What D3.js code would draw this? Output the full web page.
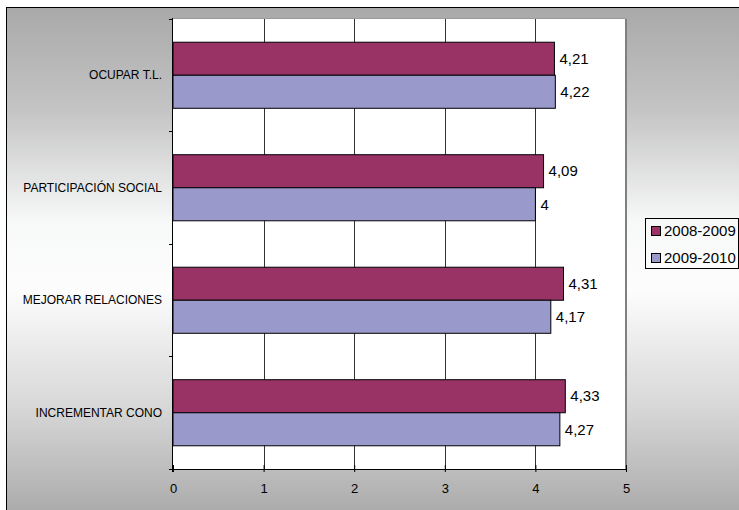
<!DOCTYPE html>
<html>
<head>
<meta charset="utf-8">
<script src="https://cdn.jsdelivr.net/npm/d3@7"></script>
<style>
  html, body { margin: 0; padding: 0; background: #fff; }
  svg { display: block; }
  text { font-family: "Liberation Sans", Arial, sans-serif; fill: #000; }
</style>
</head>
<body>
<svg id="chart" width="739" height="510"></svg>
<script>
// Categories (top to bottom) and the two series
const categories = ["OCUPAR T.L.", "PARTICIPACIÓN SOCIAL", "MEJORAR RELACIONES", "INCREMENTAR CONO"];
const seriesNames = ["2008-2009", "2009-2010"];
const values2008 = [4.21, 4.09, 4.31, 4.33];
const values2009 = [4.22, 4, 4.17, 4.27];
const xTicks = [0, 1, 2, 3, 4, 5];
const colors = ["#993366", "#9999cc"];

const svg = d3.select("#chart");
const W = 739, H = 510;

// Chart area background: grey -> white -> grey vertical gradient
const defs = svg.append("defs");
const grad = defs.append("linearGradient")
  .attr("id", "bg").attr("x1", 0).attr("y1", 0).attr("x2", 0).attr("y2", 1);
[[0, "#a9a9a9"], [0.2, "#c4c4c4"], [0.42, "#f7f8f8"], [0.55, "#fdfdfd"], [0.78, "#d8d8d8"], [1, "#a9a9a9"]]
  .forEach(([o, c]) => grad.append("stop").attr("offset", o).attr("stop-color", c));

svg.append("rect")
  .attr("x", 6.5).attr("y", 7.5).attr("width", W).attr("height", H)
  .attr("fill", "url(#bg)").attr("stroke", "#000").attr("stroke-width", 1);

// Plot area
const plot = { left: 173, right: 626, top: 19, bottom: 469 };

const x = d3.scaleLinear().domain([0, 5]).range([plot.left, plot.right]);
const y0 = d3.scaleBand().domain(categories).range([plot.top, plot.bottom]).paddingInner(0.4127).paddingOuter(0.2064);
const y1 = d3.scaleBand().domain(seriesNames).range([0, y0.bandwidth()]);

svg.append("rect")
  .attr("x", plot.left).attr("y", plot.top)
  .attr("width", plot.right - plot.left).attr("height", plot.bottom - plot.top)
  .attr("fill", "#fff");

// Vertical gridlines
svg.append("g").selectAll("line")
  .data(xTicks.slice(1, -1))
  .join("line")
  .attr("x1", d => Math.round(x(d)) + 0.5).attr("x2", d => Math.round(x(d)) + 0.5)
  .attr("y1", plot.top).attr("y2", plot.bottom)
  .attr("stroke", "#333").attr("stroke-width", 1);

// Plot area right/top edges
svg.append("line")
  .attr("x1", plot.right).attr("x2", plot.right)
  .attr("y1", plot.top).attr("y2", plot.bottom)
  .attr("stroke", "#808080").attr("stroke-width", 2);
svg.append("line")
  .attr("x1", plot.left).attr("x2", plot.right)
  .attr("y1", plot.top - 0.5).attr("y2", plot.top - 0.5)
  .attr("stroke", "#9a9a9a").attr("stroke-width", 1);

// Bars
const rows = categories.map((c, i) => ({ cat: c, vals: [values2008[i], values2009[i]] }));
const groups = svg.append("g").selectAll("g")
  .data(rows).join("g")
  .attr("transform", d => `translate(0,${y0(d.cat)})`);

groups.selectAll("rect")
  .data(d => d.vals.map((v, j) => ({ name: seriesNames[j], v, j })))
  .join("rect")
  .attr("x", x(0))
  .attr("y", d => y1(d.name))
  .attr("width", d => x(d.v) - x(0))
  .attr("height", y1.bandwidth())
  .attr("fill", d => colors[d.j])
  .attr("stroke", "#000").attr("stroke-width", 1);

// Value labels
groups.selectAll("text")
  .data(d => d.vals.map((v, j) => ({ name: seriesNames[j], v, j })))
  .join("text")
  .attr("x", d => x(d.v) + 5)
  .attr("y", d => y1(d.name) + y1.bandwidth() / 2)
  .attr("dy", "0.35em")
  .attr("font-size", 15)
  .text(d => String(d.v).replace(".", ","));

// Value axis (bottom)
const xAxis = d3.axisBottom(x).tickValues(xTicks).tickFormat(d3.format("d")).tickSize(4).tickSizeOuter(0);
const gx = svg.append("g").attr("transform", `translate(0,${plot.bottom})`).call(xAxis);
gx.select(".domain").attr("d", `M${plot.left - 3},0.5H${plot.right}`).attr("stroke", "#000");
gx.selectAll(".tick line").attr("y1", -4).attr("y2", 3).attr("stroke", "#000");
gx.selectAll(".tick text").attr("font-size", 13).attr("dy", 0).attr("y", 24).attr("fill", "#000");

// Category axis (left)
const gy = svg.append("g");
gy.append("line")
  .attr("x1", plot.left - 0.5).attr("x2", plot.left - 0.5)
  .attr("y1", plot.top - 1).attr("y2", plot.bottom + 3)
  .attr("stroke", "#000");
const step = y0.step();
gy.selectAll("line.tick")
  .data(d3.range(categories.length + 1))
  .join("line")
  .attr("class", "tick")
  .attr("x1", plot.left - 4).attr("x2", plot.left)
  .attr("y1", i => Math.round(plot.top + i * step) + 0.5)
  .attr("y2", i => Math.round(plot.top + i * step) + 0.5)
  .attr("stroke", "#000");
gy.selectAll("text")
  .data(categories)
  .join("text")
  .attr("x", plot.left - 11)
  .attr("y", d => y0(d) + y0.bandwidth() / 2)
  .attr("dy", "0.35em")
  .attr("text-anchor", "end")
  .attr("font-size", 12)
  .text(d => d);

// Legend
const lg = svg.append("g");
lg.append("rect")
  .attr("x", 645.5).attr("y", 218.5).attr("width", 93).attr("height", 50)
  .attr("fill", "none").attr("stroke", "#000");
seriesNames.forEach((name, i) => {
  const cy = 231 + i * 27;
  lg.append("rect")
    .attr("x", 651.5).attr("y", cy - 4.5).attr("width", 9).attr("height", 9)
    .attr("fill", colors[i]).attr("stroke", "#000");
  lg.append("text")
    .attr("x", 664).attr("y", cy).attr("dy", "0.36em")
    .attr("font-size", 15)
    .text(name);
});
</script>
</body>
</html>
